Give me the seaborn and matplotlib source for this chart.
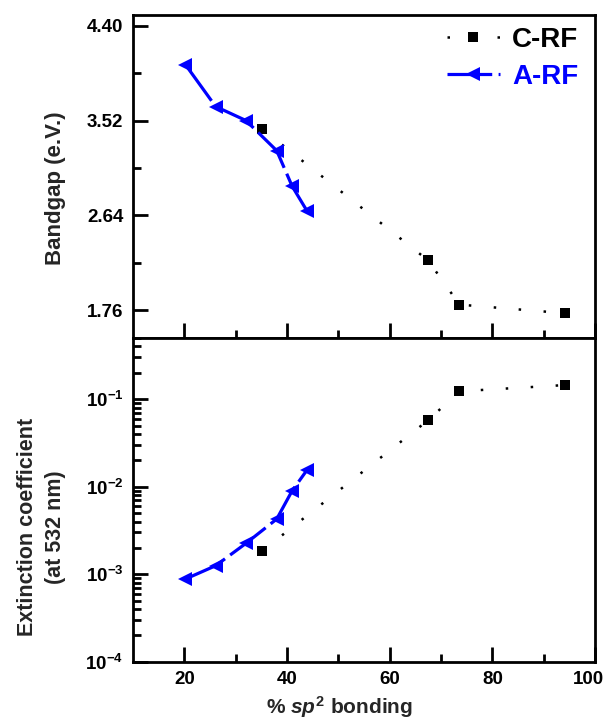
import numpy as np
import matplotlib
matplotlib.use("Agg")
import matplotlib.pyplot as plt
from matplotlib.ticker import FixedLocator, LogLocator, FuncFormatter, NullFormatter, FormatStrFormatter
from matplotlib.transforms import ScaledTranslation
import seaborn as sns

# sp2 fraction (%) of the two film series
crf_sp2 = [35.2, 67.5, 73.6, 94.2]
arf_sp2 = [20.2, 26.1, 32.0, 38.0, 41.0, 43.9]

# optical bandgap (eV)
crf_gap = [3.44, 2.22, 1.81, 1.73]
arf_gap = [4.04, 3.65, 3.52, 3.24, 2.91, 2.68]

# extinction coefficient at 532 nm
crf_k = [1.85e-3, 0.0575, 0.123, 0.145]
arf_k = [8.8e-4, 1.25e-3, 2.25e-3, 4.27e-3, 8.98e-3, 0.0155]

series_names = ["C-RF", "A-RF"]
series_colors = ["black", "#0000FF"]
gap_ticks = [1.76, 2.64, 3.52, 4.40]
x_ticks = [20, 40, 60, 80, 100]
x_minor = [30, 50, 70, 90]

sns.set_theme(style="ticks")
plt.rcParams.update({
    "font.family": ["Liberation Sans", "DejaVu Sans"],
    "font.weight": "bold",
    "axes.labelweight": "bold",
    "mathtext.fontset": "custom",
    "mathtext.rm": "Liberation Sans:bold",
    "mathtext.bf": "Liberation Sans:bold",
    "mathtext.it": "Liberation Sans:italic:bold",
    "mathtext.default": "bf",
    "axes.linewidth": 2.0,
    "axes.edgecolor": "black",
})

W, H = 606, 723
fig = plt.figure(figsize=(W / 100, H / 100), dpi=100)
L, R = 133, 595
ax1 = fig.add_axes([L / W, 1 - 338 / H, (R - L) / W, (338 - 15) / H])
ax2 = fig.add_axes([L / W, 1 - 661.7 / H, (R - L) / W, (661.7 - 338) / H], sharex=ax1)
ax2.set_yscale("log")

crf_style = dict(color=series_colors[0], marker="s", markersize=6.8, markeredgewidth=0,
                 linewidth=1.8, linestyle=(0, (1, 9)))
arf_style = dict(color=series_colors[1], marker="<", markersize=9.5, markeredgewidth=0,
                 linewidth=2.3, linestyle=(0, (14, 2)))

for ax, crf_y, arf_y in [(ax1, crf_gap, arf_gap), (ax2, crf_k, arf_k)]:
    sns.lineplot(x=crf_sp2, y=crf_y, ax=ax, sort=False, **crf_style)
    sns.lineplot(x=arf_sp2, y=arf_y, ax=ax, sort=False, **arf_style)

# axes ranges and ticks
ax1.set_xlim(10, 100)
ax1.set_ylim(1.5, 4.5)
ax1.yaxis.set_major_locator(FixedLocator(gap_ticks))
ax1.yaxis.set_minor_locator(FixedLocator([(a + b) / 2 for a, b in zip(gap_ticks[:-1], gap_ticks[1:])]))
ax1.yaxis.set_major_formatter(FormatStrFormatter("%.2f"))

ax2.set_ylim(1e-4, 0.5)
ax2.yaxis.set_major_locator(LogLocator(base=10))
ax2.yaxis.set_minor_locator(LogLocator(base=10, subs=np.arange(2, 10)))
ax2.yaxis.set_minor_formatter(NullFormatter())
ax2.yaxis.set_major_formatter(FuncFormatter(lambda v, p: r"$\mathbf{10^{%d}}$" % round(np.log10(v))))

ax2.xaxis.set_major_locator(FixedLocator(x_ticks))
ax2.xaxis.set_minor_locator(FixedLocator(x_minor))

for ax in (ax1, ax2):
    ax.tick_params(which="both", direction="in", top=False, right=False,
                   width=2, colors="black", labelsize=13.5, pad=7)
    ax.tick_params(which="major", length=11)
    ax.tick_params(which="minor", length=5.5)
    for s in ax.spines.values():
        s.set_linewidth(2)
        s.set_color("black")
    ax.set_xlabel("")
    ax.set_ylabel("")
ax1.tick_params(labelbottom=False)

# keep the last x tick label inside the canvas
fig.canvas.draw()
last = ax2.get_xticklabels()[-1]
last.set_transform(last.get_transform() + ScaledTranslation(-7 / 100, 0, fig.dpi_scale_trans))

# axis titles
ax1.set_ylabel("Bandgap (e.V.)", fontsize=16, fontweight="bold", va="center")
ax1.yaxis.set_label_coords(-(L - 55) / (R - L), (338 - 188) / 323)
ax2.set_ylabel("Extinction coefficient\n(at 532 nm)", fontsize=15.5, fontweight="bold",
               va="center", linespacing=1.4)
ax2.yaxis.set_label_coords(-(L - 41.5) / (R - L), (661.7 - 527) / 323.7)
ax2.set_xlabel(r"% $\mathit{sp}^{\mathbf{2}}$ bonding", fontsize=15, fontweight="bold", va="center")
ax2.xaxis.set_label_coords((340 - L) / (R - L), -(707 - 661.7) / 323.7)

# legend with coloured labels
handles = [ax1.lines[0], ax1.lines[1]]
leg = ax1.legend(handles, series_names, loc="upper right", frameon=False,
                 prop={"size": 20, "weight": "bold"}, handlelength=1.9,
                 handletextpad=0.45, labelspacing=0.4,
                 bbox_to_anchor=(1.0, 1.015), borderaxespad=0.2)
for txt, col in zip(leg.get_texts(), series_colors):
    txt.set_color(col)

fig.savefig("out.png", dpi=100)
